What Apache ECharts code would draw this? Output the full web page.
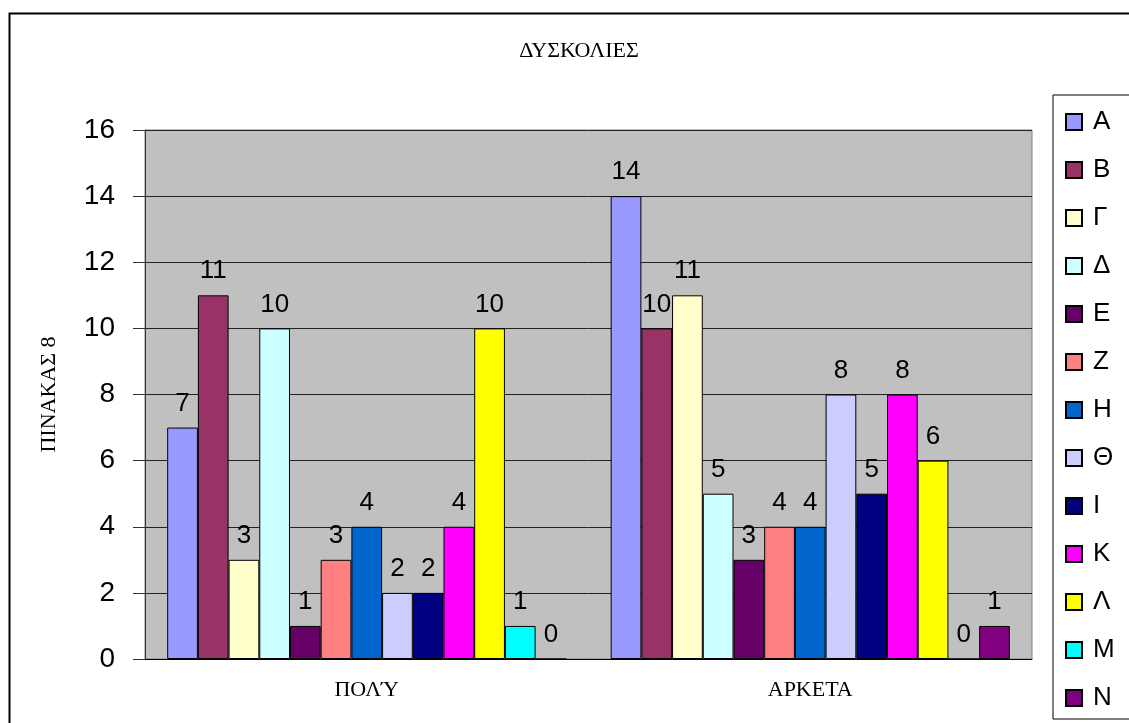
<!DOCTYPE html>
<html>
<head>
<meta charset="utf-8">
<script src="https://cdn.jsdelivr.net/npm/echarts@6/dist/echarts.min.js"></script>
<style>
  html, body { margin: 0; padding: 0; background: #fff; }
  #chart { width: 1129px; height: 723px; }
</style>
</head>
<body>
<div id="chart"></div>
<script>
// categories on the x axis
const categories = ['ΠΟΛΎ', 'ΑΡΚΕΤΑ'];
// legend / series names
const seriesNames = ['Α', 'Β', 'Γ', 'Δ', 'Ε', 'Ζ', 'Η', 'Θ', 'Ι', 'Κ', 'Λ', 'Μ', 'Ν'];
// values per series, for ΠΟΛΎ and ΑΡΚΕΤΑ
const valuesPoly = [7, 11, 3, 10, 1, 3, 4, 2, 2, 4, 10, 1, 0];
const valuesArketa = [14, 10, 11, 5, 3, 4, 4, 8, 5, 8, 6, 0, 1];
const yTicks = [0, 2, 4, 6, 8, 10, 12, 14, 16];

// excel 97 style palette
const palette = ['#9999FF', '#993366', '#FFFFCC', '#CCFFFF', '#660066', '#FF8080',
  '#0066CC', '#CCCCFF', '#000080', '#FF00FF', '#FFFF00', '#00FFFF', '#800080'];

const chart = echarts.init(document.getElementById('chart'));

const series = seriesNames.map((name, i) => ({
  name,
  type: 'bar',
  data: [valuesPoly[i], valuesArketa[i]],
  barGap: '0%',
  barCategoryGap: '10%',
  itemStyle: {
    color: palette[i],
    borderColor: '#000',
    borderWidth: 1
  },
  label: {
    show: true,
    position: 'top',
    distance: 11,
    color: '#000',
    fontFamily: 'Liberation Sans',
    fontSize: 26
  }
}));

const option = {
  animation: false,
  backgroundColor: '#fff',
  title: {
    text: 'ΔΥΣΚΟΛΙΕΣ',
    left: 574,
    top: 35,
    textAlign: 'center',
    textStyle: {
      fontFamily: 'Liberation Serif',
      fontWeight: 'normal',
      fontSize: 22,
      color: '#000'
    }
  },
  graphic: [{
    type: 'rect',
    shape: { x: 9.5, y: 13.5, width: 1140, height: 730 },
    style: { fill: null, stroke: '#000', lineWidth: 2 },
    z: -1
  }],
  legend: {
    orient: 'vertical',
    left: 1053,
    top: 95,
    padding: [14, 60, 8, 12],
    itemGap: 22,
    itemWidth: 16,
    itemHeight: 16,
    icon: 'rect',
    borderColor: '#000',
    borderWidth: 1,
    textStyle: {
      fontFamily: 'Liberation Sans',
      fontSize: 26,
      lineHeight: 26,
      padding: [0, 0, 0, 6],
      color: '#000'
    },
    data: seriesNames
  },
  grid: {
    left: 145,
    right: 97,
    top: 130,
    bottom: 64,
    show: true,
    backgroundColor: '#C0C0C0',
    borderColor: '#808080',
    borderWidth: 1
  },
  xAxis: {
    type: 'category',
    data: categories,
    axisLine: { lineStyle: { color: '#000' } },
    axisTick: { length: 7, lineStyle: { color: '#000' } },
    axisLabel: {
      margin: 20,
      fontFamily: 'Liberation Serif',
      fontSize: 22,
      color: '#000'
    }
  },
  yAxis: {
    type: 'value',
    min: yTicks[0],
    max: yTicks[yTicks.length - 1],
    interval: 2,
    name: 'ΠΙΝΑΚΑΣ 8',
    nameLocation: 'middle',
    nameGap: 85,
    nameRotate: 90,
    nameTextStyle: {
      fontFamily: 'Liberation Serif',
      fontSize: 22,
      color: '#000'
    },
    axisLine: { show: true, lineStyle: { color: '#333' } },
    axisTick: { show: true, inside: false, length: 12, lineStyle: { color: '#333' } },
    axisLabel: {
      margin: 30,
      fontFamily: 'Liberation Sans',
      fontSize: 28,
      color: '#000'
    },
    splitLine: { lineStyle: { color: '#222', width: 1 } }
  },
  series
};

chart.setOption(option);
</script>
</body>
</html>
